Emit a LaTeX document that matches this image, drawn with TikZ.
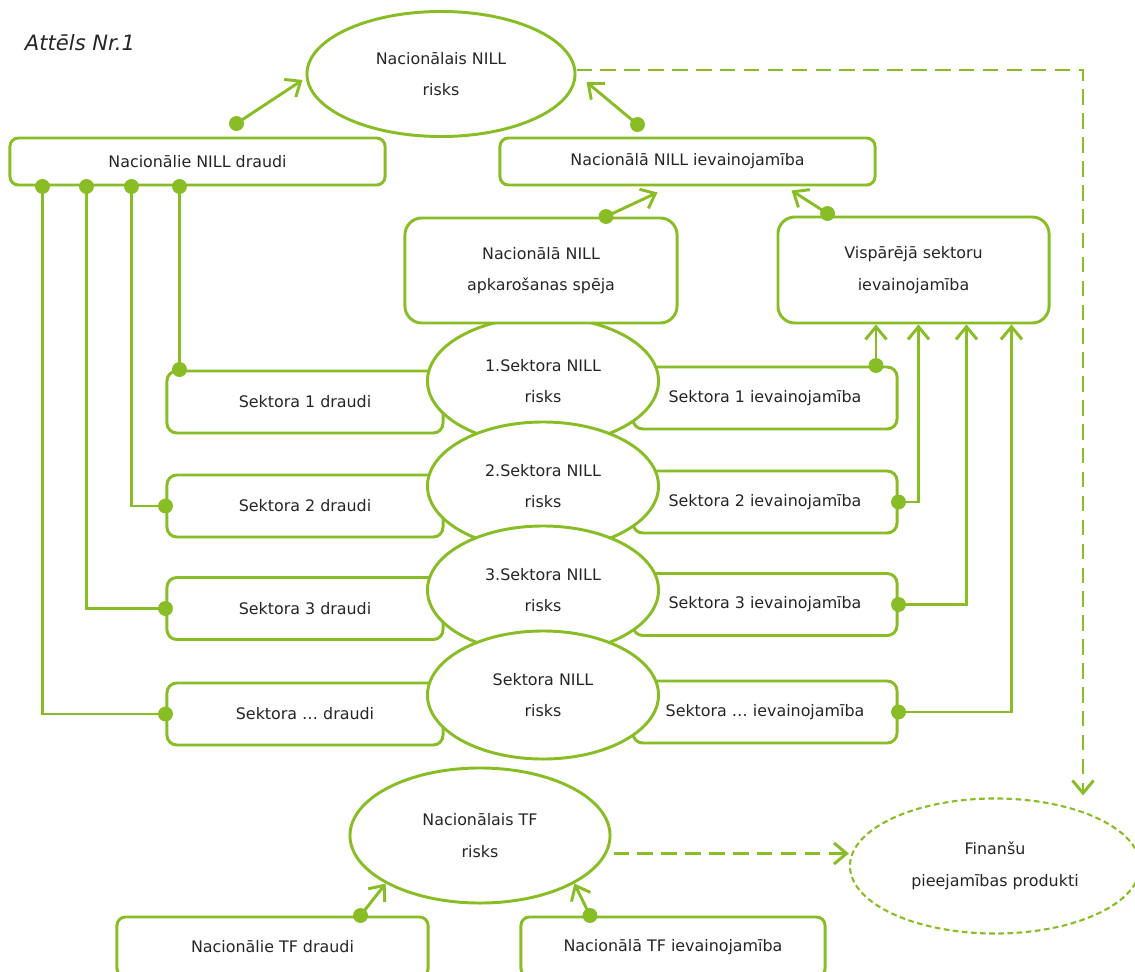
\documentclass[tikz,border=0pt]{standalone}
\usepackage{fontspec}
\setmainfont{DejaVu Sans}
\usetikzlibrary{arrows.meta,positioning,calc,shapes.geometric}
\definecolor{risklime}{RGB}{136,189,38}
\newcommand{\lbltxt}{\fontsize{11.3}{22.5}\selectfont}
\tikzset{
  blk/.style={draw=risklime,line width=2.1pt,rectangle,rounded corners=6pt,fill=white,inner sep=0pt,align=center,font=\lbltxt,text=black!85},
  bigblk/.style={blk,rounded corners=12pt},
  secblk/.style={blk,rounded corners=7pt,minimum height=1.55cm},
  oval/.style={draw=risklime,line width=2.1pt,ellipse,fill=white,inner sep=0pt,align=center,font=\lbltxt,text=black!85},
  secoval/.style={oval,minimum width=5.775cm,minimum height=3.2cm},
  dshoval/.style={oval,line width=1.5pt,dash pattern=on 4pt off 2.5pt},
  wire/.style={draw=risklime,line width=2.1pt},
  arr/.style={wire,-{Straight Barb[length=9pt,width=15pt]}},
  darr/.style={arr,dash pattern=on 11pt off 6pt},
  blob/.style={fill=risklime}
}

\begin{document}
\begin{tikzpicture}[x=0.025cm,y=-0.025cm]
  \useasboundingbox (0,0) rectangle (1135,971);
  \clip (0,0) rectangle (1135,971);

  \node[anchor=base west,font=\fontsize{15}{18}\selectfont\itshape,text=black!85] (fig) at (20,51) {Attēls Nr.1};

  \node[oval,minimum width=6.7cm,minimum height=3.125cm] (nrisk) at (441,74) {Nacionālais NILL\\risks};
  \node[blk,minimum width=9.375cm,minimum height=1.175cm] (nthreat) at (197.5,161.5) {Nacionālie NILL draudi};
  \node[blk,minimum width=9.375cm,minimum height=1.175cm] (nvuln) at (687.5,161.5) {Nacionālā NILL ievainojamība};

  \node[secblk,minimum width=6.9cm] (s1t) at (305,402) {Sektora 1 draudi};
  \node[secblk,minimum width=6.9cm] (s2t) at (305,506) {Sektora 2 draudi};
  \node[secblk,minimum width=6.9cm] (s3t) at (305,608.5) {Sektora 3 draudi};
  \node[secblk,minimum width=6.9cm] (s4t) at (305,714) {Sektora … draudi};
  \node[secblk,minimum width=6.6cm] (s1v) at (765,398) {Sektora 1 ievainojamība};
  \node[secblk,minimum width=6.6cm] (s2v) at (765,502) {Sektora 2 ievainojamība};
  \node[secblk,minimum width=6.6cm] (s3v) at (765,604.5) {Sektora 3 ievainojamība};
  \node[secblk,minimum width=6.6cm] (s4v) at (765,712) {Sektora … ievainojamība};

  \node[secoval] (s1r) at (543,381) {1.Sektora NILL\\risks};
  \node[secoval] (s2r) at (543,486) {2.Sektora NILL\\risks};
  \node[secoval] (s3r) at (543,590) {3.Sektora NILL\\risks};
  \node[secoval] (s4r) at (543,695) {Sektora NILL\\risks};

  \node[bigblk,minimum width=6.8cm,minimum height=2.625cm] (ncap) at (541,270.5) {Nacionālā NILL\\apkarošanas spēja};
  \node[bigblk,minimum width=6.775cm,minimum height=2.65cm] (gvuln) at (913.5,270) {Vispārējā sektoru\\ievainojamība};

  \node[oval,minimum width=6.5cm,minimum height=3.375cm] (tfrisk) at (480,835.5) {Nacionālais TF\\risks};
  \node[dshoval,minimum width=7.25cm,minimum height=3.375cm] (fin) at (995,866) {Finanšu\\pieejamības produkti};
  \node[blk,minimum width=7.775cm,minimum height=1.5cm] (tfthreat) at (272.5,947) {Nacionālie TF draudi};
  \node[blk,minimum width=7.6cm,minimum height=1.5cm] (tfvuln) at (673,947) {Nacionālā TF ievainojamība};

  \coordinate (pA) at ([shift={(228,-13)}]nthreat.north west);
  \coordinate (pB) at ([shift={(-50,-12)}]nvuln.north);
  \coordinate (pC) at ([shift={(65,0)}]ncap.north);
  \coordinate (pD) at ([shift={(-86,-2)}]gvuln.north);
  \draw[arr] (pA) -- ([shift={(-3,6)}]nrisk.west);
  \draw[arr] (pB) -- ([shift={(10,8)}]nrisk.east);
  \draw[arr] (pC) -- ([shift={(-30,6)}]nvuln.south);
  \draw[arr] (pD) -- ([shift={(104,4)}]nvuln.south);

  \coordinate (t1) at ([shift={(34,0)}]nthreat.south west);
  \coordinate (t2) at ([shift={(78,0)}]nthreat.south west);
  \coordinate (t3) at ([shift={(123,0)}]nthreat.south west);
  \coordinate (t4) at ([shift={(171,0)}]nthreat.south west);
  \draw[wire] (t4) -- (t4 |- s1t.north);
  \draw[wire] (t3) |- (s2t.west);
  \draw[wire] (t2) |- (s3t.west);
  \draw[wire] (t1) |- (s4t.west);

  \coordinate (v1) at ([shift={(111,0)}]s1v.north);
  \draw[arr] (v1) -- (v1 |- gvuln.south);
  \draw[arr] (s2v.east) -| ([shift={(142,0)}]gvuln.south west);
  \draw[arr] (s3v.east) -| ([shift={(190,0)}]gvuln.south west);
  \draw[arr] (s4v.east) -| ([shift={(235,0)}]gvuln.south west);

  \draw[darr] ([shift={(0,-4)}]nrisk.east) -| ([shift={(88,-2)}]fin.north);
  \coordinate (tfo) at ([shift={(2,18)}]tfrisk.east);
  \draw[darr] (tfo) -- (tfo -| fin.west);

  \coordinate (pE) at ([shift={(88,0)}]tfthreat.north);
  \coordinate (pF) at ([shift={(-83,0)}]tfvuln.north);
  \draw[arr] (pE) -- (tfrisk.207);
  \draw[arr] (pF) -- (tfrisk.333);

  \foreach \p in {pA,pB,pC,pD,t1,t2,t3,t4,v1,pE,pF,t4 |- s1t.north,s2t.west,s3t.west,s4t.west,s2v.east,s3v.east,s4v.east}
    \fill[blob] (\p) circle[radius=5.3pt];
\end{tikzpicture}
\end{document}
